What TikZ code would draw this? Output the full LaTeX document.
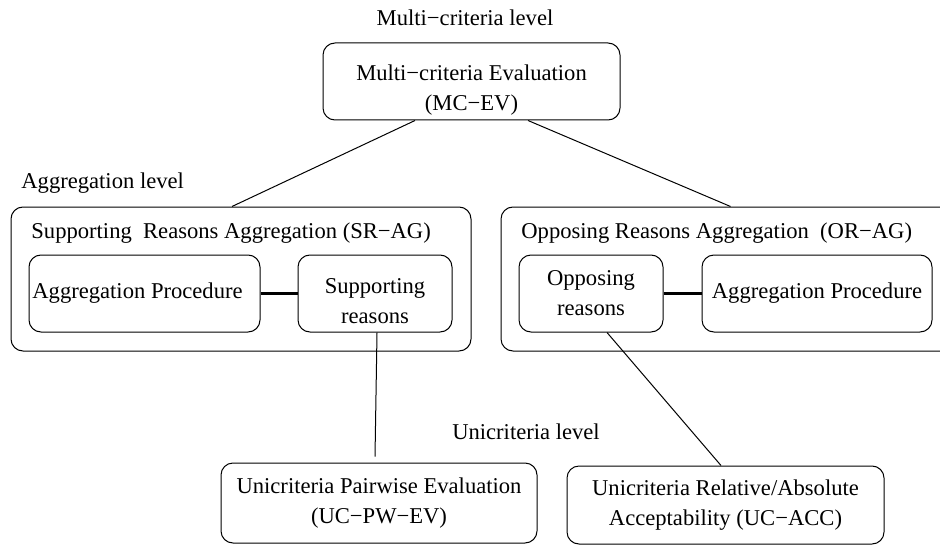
\documentclass[tikz,border=0pt]{standalone}
\usepackage{fontspec}
\setmainfont{Liberation Serif}
\usetikzlibrary{calc}

\newcommand{\topgap}[1]{\rule{0pt}{#1}}

\begin{document}
\begin{tikzpicture}
  [x=0.5pt,y=-0.5pt,font=\fontsize{11.3}{15}\selectfont,
   box/.style={draw,rounded corners=6pt,line width=0.5pt,align=center,inner sep=0pt},
   lvl/.style={inner sep=0pt},
   link/.style={line width=0.5pt},
   bond/.style={line width=1.5pt}]

  \useasboundingbox (0,0) rectangle (940,545);
  \clip (0,0) rectangle (940,545);

  % multi-criteria level
  \node[lvl] (mclvl) at (465,18) {Multi−criteria level};
  \node[box,minimum width=148.5pt,minimum height=38.5pt] (mcev) at (471.5,81.5)
    {\topgap{16.5pt}Multi−criteria Evaluation\\(MC−EV)\hspace{12pt}};

  % aggregation level
  \node[lvl,anchor=west] (aglvl) at (21,183) {Aggregation level};

  \node[box,minimum width=230pt,minimum height=72pt] (srag) at (241,279) {};
  \node[lvl,anchor=west] (sragtitle) at (31,233) {Supporting\ \ Reasons Aggregation (SR−AG)};
  \node[box,minimum width=115.5pt,minimum height=38.5pt] (aggl) at (144.5,293.5) {Aggregation Procedure\hspace{7pt}};
  \node[box,minimum width=77pt,minimum height=38.5pt] (supp) at (375,293.5) {\topgap{15.5pt}Supporting\\reasons};

  \node[box,minimum width=229.5pt,minimum height=72pt] (orag) at (730.5,279) {};
  \node[lvl,anchor=west] (oragtitle) at (521,233) {Opposing Reasons Aggregation\ \ (OR−AG)};
  \node[box,minimum width=72pt,minimum height=38.5pt] (opp) at (591,293.5) {Opposing\\reasons};
  \node[box,minimum width=115pt,minimum height=38.5pt] (aggr) at (817,293.5) {Aggregation Procedure};

  % unicriteria level
  \node[lvl] (uclvl) at (526,432) {Unicriteria level};
  \node[box,minimum width=158pt,minimum height=40pt] (pw) at (379,503)
    {Unicriteria Pairwise Evaluation\\(UC−PW−EV)};
  \node[box,minimum width=158.5pt,minimum height=39pt] (rel) at (725.5,505)
    {Unicriteria Relative/Absolute\\Acceptability (UC−ACC)};

  % connectors
  \draw[link] ($(mcev.south)+(-56.5,0)$) -- ($(srag.north)+(-9,0)$);
  \draw[link] ($(mcev.south)+(56.5,0)$) -- (orag.north);
  \draw[bond] (aggl) -- (supp);
  \draw[bond] (opp) -- (aggr);
  \draw[link] ($(supp.south)+(2,0)$) -- ($(pw.north)+(-4,-6)$);
  \draw[link] ($(opp.south)+(16,0)$) -- ($(rel.north)+(-4.5,0)$);

\end{tikzpicture}
\end{document}
